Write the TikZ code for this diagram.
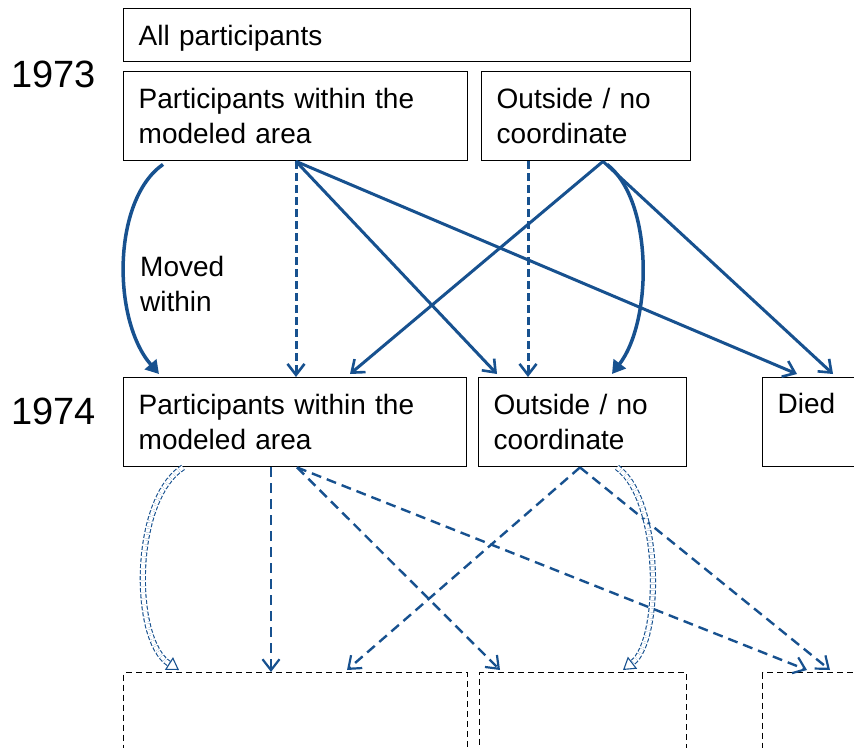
\documentclass[tikz,border=0pt]{standalone}
\usepackage{fontspec}
\setmainfont{Liberation Sans}
\usetikzlibrary{arrows.meta}
\usetikzlibrary{calc}

\definecolor{flowblue}{RGB}{23,81,143}

\tikzset{
  box/.style={draw, line width=1.4pt, anchor=north west, inner xsep=15pt, inner ysep=0pt,
    align=left, font=\fontsize{28}{35}\selectfont},
  openbox/.style={box, draw=black, dash pattern={on 6pt off 4pt}, line width=1.3pt},
  year/.style={anchor=base west, inner sep=0pt, font=\fontsize{38}{40}\selectfont},
  flow/.style={draw=flowblue, line width=3pt, -{Straight Barb[length=11pt,width=17pt,line width=2.6pt]}},
  flowdash/.style={flow, dash pattern={on 8pt off 4pt}},
  flowbend/.style={draw=flowblue, line width=3.5pt, -{Triangle[length=13pt,width=15pt]}},
  later/.style={draw=flowblue, line width=2.4pt, dash pattern={on 10pt off 6pt},
    -{Straight Barb[length=11pt,width=17pt,line width=2.2pt]}},
  laterbend/.style={draw=flowblue, line width=1.1pt, double=white, double distance=4pt,
    dash pattern={on 4pt off 2pt}, -{Triangle[open,length=12pt,width=15pt,line width=1.1pt]}},
}

\begin{document}
\begin{tikzpicture}[x=1pt,y=-1pt]
\useasboundingbox (0,0) rectangle (854,747);
\clip (0,0) rectangle (854,747);

% Text Node
\node[year] (y73) at (11,87) {1973};
\node[year] (y74) at (11,424) {1974};

%Shape: 1973 boxes
\node[box, minimum width=567pt, minimum height=53pt, text width=537pt, text height=24pt, text depth=4pt] (all73) at (123,8) {All participants};
\node[box, minimum width=344pt, minimum height=89pt, text width=314pt] (pw73) at (123,71) {Participants within the\\modeled area};
\node[box, minimum width=209pt, minimum height=89pt, text width=179pt] (out73) at (481,71) {Outside / no\\coordinate};

%Shape: 1974 boxes
\node[box, minimum width=343pt, minimum height=89pt, text width=313pt] (pw74) at (123,377) {Participants within the\\modeled area};
\node[box, minimum width=208pt, minimum height=89pt, text width=178pt] (out74) at (478,377) {Outside / no\\coordinate};
\node[box, minimum width=110pt, minimum height=89pt, text width=80pt] (died74) at (762,377) {Died\\[-8pt]\strut};

%Shape: 1975 boxes (empty)
\node[openbox, minimum width=344pt, minimum height=100pt] (pw75) at (123,672) {};
\node[openbox, minimum width=207pt, minimum height=100pt] (out75) at (479,672) {};
\node[openbox, minimum width=110pt, minimum height=100pt] (died75) at (762,672) {};

%Straight Lines 1973 -> 1974
\draw[flowdash] ($(pw73.south west)+(173,0)$) -- ($(pw74.north west)+(173,0)$);
\draw[flow] ($(pw73.south west)+(173,0)$) -- ($(out74.north west)+(19,-3)$);
\draw[flow] ($(pw73.south west)+(173,0)$) -- ($(died74.north west)+(35,-3)$);
\draw[flowdash] ($(out73.south west)+(47,0)$) -- ($(out74.north west)+(50,0)$);
\draw[flow] ($(out73.south west)+(122,0)$) -- ($(pw74.north west)+(227,-3)$);
\draw[flow] ($(out73.south west)+(122,0)$) -- ($(died74.north west)+(71,-3)$);

%Curves: staying put
\draw[flowbend] ($(pw73.south west)+(40,3)$) .. controls (112,200) and (112,320) .. ($(pw74.north west)+(36,-3)$);
\draw[flowbend] ($(out73.south west)+(126,3)$) .. controls (653,200) and (653,320) .. ($(out74.north west)+(134,-3)$);

% Text Node
\node[anchor=north west, inner sep=0pt, align=left, font=\fontsize{28}{35}\selectfont] (moved) at (140,256) {Moved\\within};

%Straight Lines 1974 -> next
\draw[later] ($(pw74.south west)+(148,0)$) -- ($(pw75.north west)+(148,0)$);
\draw[later] ($(pw74.south west)+(174,0)$) -- ($(out75.north west)+(21,-2)$);
\draw[later] ($(pw74.south west)+(174,0)$) -- ($(died75.north west)+(45,-2)$);
\draw[later] ($(out74.south west)+(102,0)$) -- ($(pw75.north west)+(224,-2)$);
\draw[later] ($(out74.south west)+(102,0)$) -- ($(died75.north west)+(68,-2)$);

%Curves: hollow dashed
\draw[laterbend] ($(pw74.south west)+(60,0)$) .. controls (132,500) and (132,640) .. ($(pw75.north west)+(56,-2)$);
\draw[laterbend] ($(out74.south west)+(139,0)$) .. controls (662,500) and (662,640) .. ($(out75.north west)+(144,-2)$);

\end{tikzpicture}
\end{document}
